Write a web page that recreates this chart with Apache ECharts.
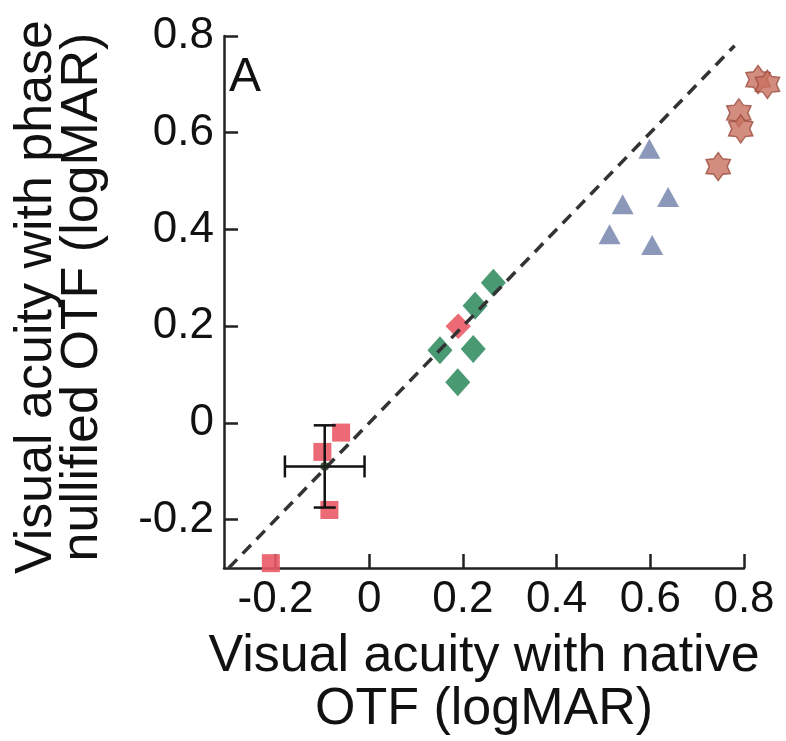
<!DOCTYPE html>
<html lang="en">
<head>
    <meta charset="UTF-8">
    <title>Visual acuity</title>
    <script src="https://cdn.jsdelivr.net/npm/echarts@6/dist/echarts.min.js"></script>
    <style>
        html, body { margin: 0; padding: 0; background: #fff; }
        #chart { width: 786px; height: 741px; }
    </style>
</head>
<body>
<div id="chart"></div>
<script>
    // (logMAR)
    const redX = [-0.06, -0.10, -0.085, -0.21, 0.19];
    const redY = [-0.02, -0.06, -0.18, -0.29, 0.20];
    const redRot = [0, 0, 0, 0, 45];
    const greenX = [0.265, 0.226, 0.151, 0.222, 0.189];
    const greenY = [0.29, 0.242, 0.15, 0.153, 0.084];
    const blueX = [0.598, 0.541, 0.638, 0.513, 0.604];
    const blueY = [0.567, 0.452, 0.467, 0.390, 0.368];
    const starX = [0.83, 0.85, 0.789, 0.793, 0.745];
    const starY = [0.71, 0.70, 0.641, 0.608, 0.53];
    // mean and spread
    const meanX = [-0.095];
    const meanY = [-0.09];
    const errX = [0.085];
    const errY = [0.085];
    // identity line
    const diagX = [-0.3, 0.78];
    const diagY = [-0.3, 0.78];
    const tickValues = [-0.2, 0, 0.2, 0.4, 0.6, 0.8];

    const font = 'Liberation Sans, Arial, sans-serif';
    const hexagram = 'path://M50,0 L66,22.3 L93.3,25 L82,50 L93.3,75 L66,77.7 L50,100 L34,77.7 L6.7,75 L18,50 L6.7,25 L34,22.3 Z';

    function pairs(xs, ys) {
        return xs.map((x, i) => [x, ys[i]]);
    }

    let myChart = echarts.init(document.getElementById('chart'));

    const axisCommon = {
        type: 'value',
        max: 0.8,
        splitLine: {show: false},
        axisLine: {show: true, onZero: false, lineStyle: {color: '#222', width: 2.5}},
        axisTick: {show: true, inside: true, length: 14, lineStyle: {color: '#222', width: 2.5}, customValues: tickValues},
        axisLabel: {
            color: '#111', fontSize: 44, fontFamily: font, margin: 10,
            customValues: tickValues,
            formatter: v => String(v)
        },
        nameLocation: 'middle'
    };

    let option = {
        animation: false,
        grid: {left: 224, right: 42, top: 36, bottom: 173, containLabel: false, outerBoundsMode: 'none'},
        xAxis: Object.assign({}, axisCommon, {
            min: -0.31,
            name: 'Visual acuity with native\nOTF (logMAR)',
            nameGap: 62,
            nameTextStyle: {color: '#111', fontSize: 52, fontFamily: font, lineHeight: 53}
        }),
        yAxis: Object.assign({}, axisCommon, {
            min: -0.3,
            name: 'Visual acuity with phase\nnullified OTF (logMAR)',
            nameRotate: 90,
            nameGap: 118,
            nameTextStyle: {color: '#111', fontSize: 52, fontFamily: font, lineHeight: 46, padding: [0, 0, 0, 10]}
        }),
        graphic: [{
            type: 'text', left: 229, top: 54,
            style: {text: 'A', fontSize: 48, fontFamily: font, fill: '#111'}
        }],
        series: [
            {
                type: 'scatter', symbol: 'rect', symbolSize: 18, clip: false,
                itemStyle: {color: '#e95a66', opacity: 0.9},
                data: pairs(redX, redY).map((p, i) => ({value: p, symbolRotate: redRot[i]})),
                z: 3
            },
            {
                type: 'scatter', symbol: 'diamond', symbolSize: [25, 28],
                itemStyle: {color: '#3f936b', opacity: 0.95},
                data: pairs(greenX, greenY),
                z: 2
            },
            {
                type: 'scatter', symbol: 'triangle', symbolSize: [22, 20],
                itemStyle: {color: '#6e7ea8'},
                data: pairs(blueX, blueY),
                z: 2
            },
            {
                type: 'scatter', symbol: hexagram, symbolSize: 28, symbolKeepAspect: true, clip: false,
                itemStyle: {color: '#c8705f', borderColor: '#9c4e3e', borderWidth: 1.5},
                data: pairs(starX, starY),
                z: 2
            },
            {
                type: 'custom',
                data: meanX.map((x, i) => [x, meanY[i], errX[i], errY[i]]),
                renderItem: function (params, api) {
                    const x = api.value(0), y = api.value(1), ex = api.value(2), ey = api.value(3);
                    const l = api.coord([x - ex, y]), r = api.coord([x + ex, y]);
                    const t = api.coord([x, y + ey]), b = api.coord([x, y - ey]);
                    const c = 11;
                    const st = {stroke: '#111', lineWidth: 2.5};
                    const seg = (x1, y1, x2, y2) => ({type: 'line', shape: {x1, y1, x2, y2}, style: st});
                    return {
                        type: 'group',
                        children: [
                            seg(l[0], l[1], r[0], r[1]),
                            seg(l[0], l[1] - c, l[0], l[1] + c),
                            seg(r[0], r[1] - c, r[0], r[1] + c),
                            seg(t[0], t[1], b[0], b[1]),
                            seg(t[0] - c, t[1], t[0] + c, t[1]),
                            seg(b[0] - c, b[1], b[0] + c, b[1])
                        ]
                    };
                },
                z: 5
            },
            {
                type: 'scatter', symbol: 'circle', symbolSize: 9,
                itemStyle: {color: '#1a2a1a'},
                data: pairs(meanX, meanY),
                z: 6
            },
            {
                type: 'line', showSymbol: false, silent: true,
                lineStyle: {color: '#333', width: 3.5, type: [12, 8]},
                data: pairs(diagX, diagY),
                z: 4
            }
        ]
    };
    myChart.setOption(option);
</script>
</body>
</html>
